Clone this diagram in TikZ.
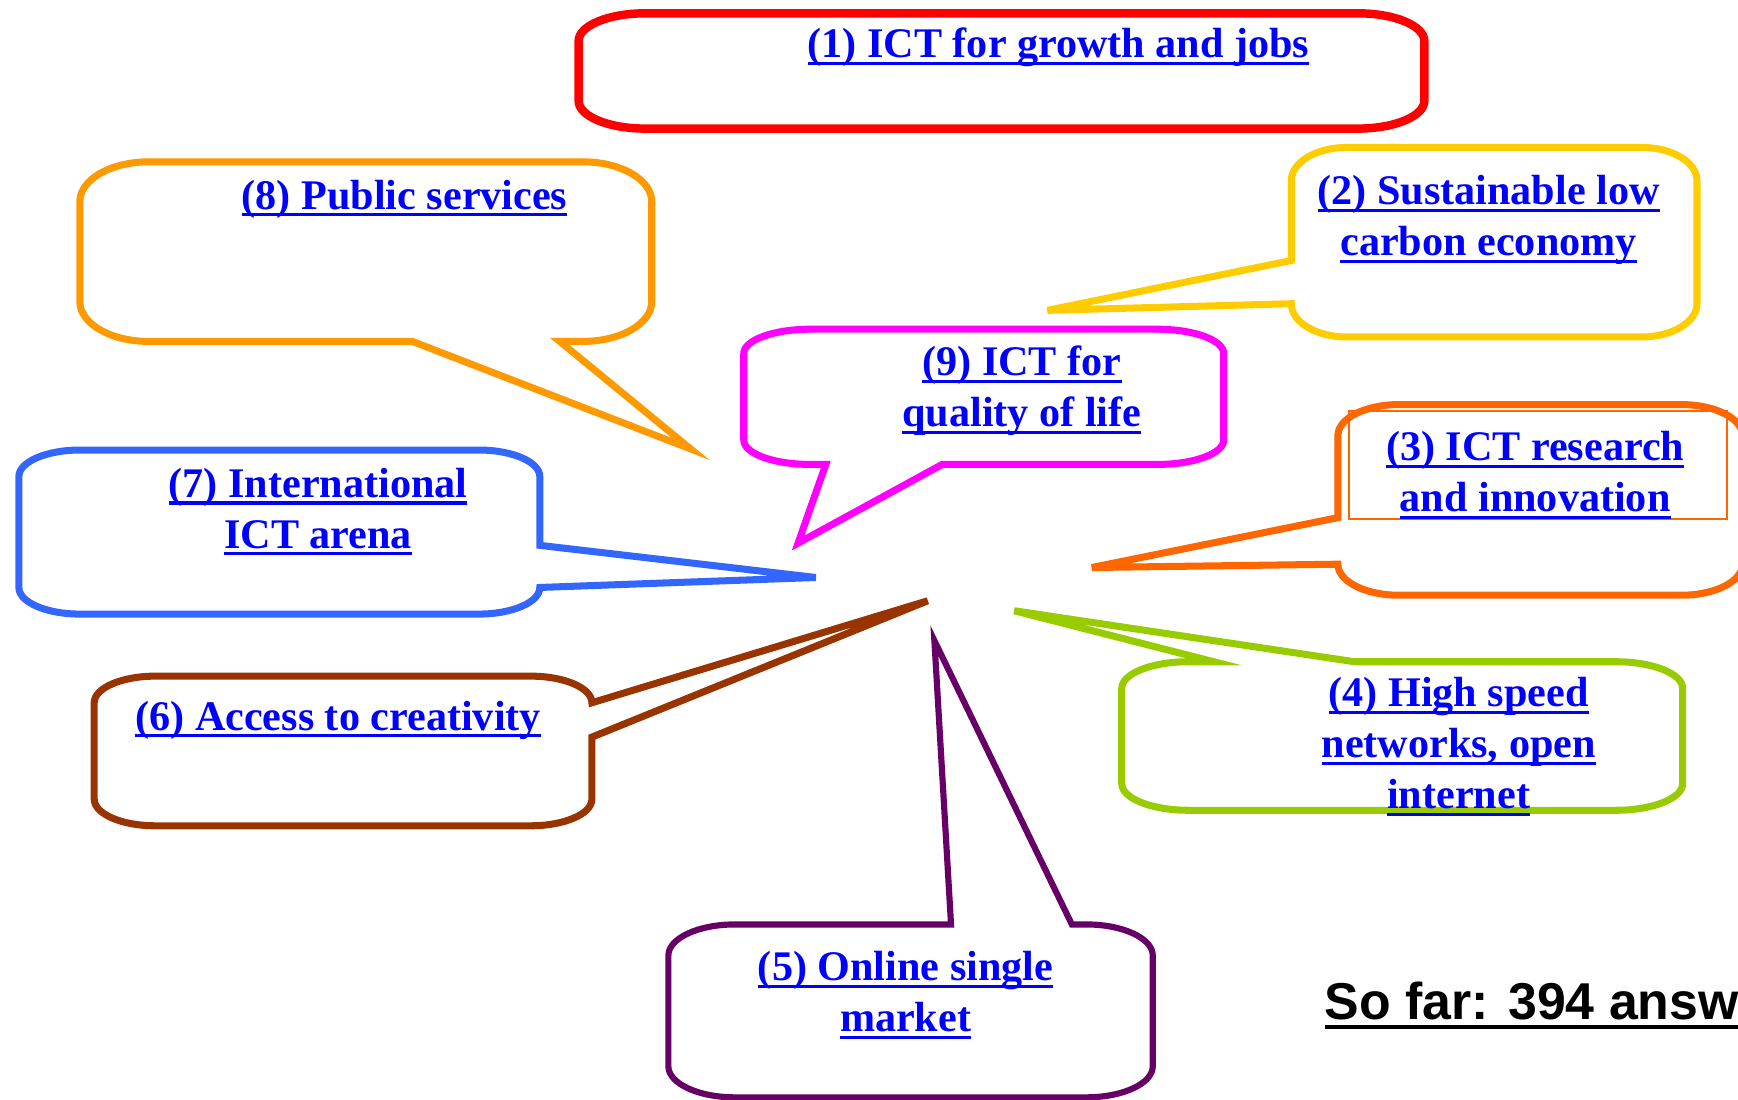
\documentclass[tikz,border=0pt]{standalone}
\usepackage{fontspec}
\setmainfont{Liberation Serif}
\newfontfamily\notefont{Liberation Sans}

% underlined link text
\newcommand{\lnk}[1]{\setbox0=\hbox{#1}\rlap{\rule[-0.17em]{\wd0}{0.075em}}\box0}

\begin{document}
\begin{tikzpicture}[x=0.022168cm, y=-0.022168cm,
    callout/.style={line width=4pt, line join=miter, x radius=55, y radius=28},
    lbl/.style={font=\bfseries\fontsize{24}{29}\selectfont, text=linkblue, align=center, inner sep=0pt, anchor=north}]
        \definecolor{linkblue}{RGB}{0,0,255}
        \definecolor{cRed}{RGB}{255,0,0}
        \definecolor{cYellow}{RGB}{255,204,0}
        \definecolor{cOrange}{RGB}{255,153,0}
        \definecolor{cMagenta}{RGB}{255,0,255}
        \definecolor{cRust}{RGB}{255,102,0}
        \definecolor{cBlue}{RGB}{51,102,255}
        \definecolor{cBrown}{RGB}{153,51,0}
        \definecolor{cGreen}{RGB}{153,204,0}
        \definecolor{cPurple}{RGB}{102,0,102}

        \useasboundingbox (0,0) rectangle (1568,992);
        \clip (0,0) rectangle (1568,992);

        % (1) plain rounded box
        \draw[callout, cRed, line width=4.8pt, x radius=60, y radius=25]
            (582,12) -- (1225,12) arc[start angle=270, end angle=360] -- (1285,91) arc[start angle=0, end angle=90]
            -- (582,116) arc[start angle=90, end angle=180] -- (522,37) arc[start angle=180, end angle=270] -- cycle;

        % (8) pointer at the bottom
        \draw[callout, cOrange, x radius=62, y radius=36]
            (134,146) -- (526,146) arc[start angle=270, end angle=360] -- (588,272) arc[start angle=0, end angle=90]
            -- (505,308) -- (623,405) -- (372,308)
            -- (134,308) arc[start angle=90, end angle=180] -- (72,182) arc[start angle=180, end angle=270] -- cycle;

        % (2) pointer on the left side
        \draw[callout, cYellow, x radius=50, y radius=30]
            (1215,133) -- (1481,133) arc[start angle=270, end angle=360] -- (1531,274) arc[start angle=0, end angle=90]
            -- (1215,304) arc[start angle=90, end angle=180]
            -- (945,280) -- (1165,235)
            -- (1165,163) arc[start angle=180, end angle=270] -- cycle;

        % (9) pointer at the bottom
        \draw[callout, cMagenta, x radius=60, y radius=22]
            (731,297) -- (1044,297) arc[start angle=270, end angle=360] -- (1104,397) arc[start angle=0, end angle=90]
            -- (850,419) -- (720,490) -- (745,419)
            -- (731,419) arc[start angle=90, end angle=180] -- (671,319) arc[start angle=180, end angle=270] -- cycle;

        % (3) pointer on the left side, text frame inside
        \draw[callout, cRust, x radius=55, y radius=28]
            (1262,365) -- (1517,365) arc[start angle=270, end angle=360] -- (1572,509) arc[start angle=0, end angle=90]
            -- (1262,537) arc[start angle=90, end angle=180]
            -- (985,512) -- (1207,467)
            -- (1207,393) arc[start angle=180, end angle=270] -- cycle;
        \draw[cRust, line width=1pt] (1217,371) rectangle (1558,468);

        % (7) pointer on the right side
        \draw[callout, cBlue, x radius=55, y radius=24]
            (72,406) -- (432,406) arc[start angle=270, end angle=360]
            -- (487,492) -- (736,521) -- (487,530)
            arc[start angle=0, end angle=90] -- (72,554) arc[start angle=90, end angle=180]
            -- (17,430) arc[start angle=180, end angle=270] -- cycle;

        % (6) pointer on the right side
        \draw[callout, cBrown, x radius=55, y radius=24]
            (140,610) -- (479,610) arc[start angle=270, end angle=360]
            -- (837,542) -- (534,665)
            -- (534,721) arc[start angle=0, end angle=90] -- (140,745) arc[start angle=90, end angle=180]
            -- (85,634) arc[start angle=180, end angle=270] -- cycle;

        % (4) pointer on the top
        \draw[callout, cGreen, x radius=60, y radius=24]
            (1072,597) -- (1095,597) -- (915,551) -- (1222,597)
            -- (1458,597) arc[start angle=270, end angle=360] -- (1518,707) arc[start angle=0, end angle=90]
            -- (1072,731) arc[start angle=90, end angle=180] -- (1012,621) arc[start angle=180, end angle=270] -- cycle;

        % (5) pointer on the top
        \draw[callout, cPurple, line width=3.5pt, x radius=60, y radius=28]
            (663,834) -- (858,834) -- (843,578) -- (967,834)
            -- (980,834) arc[start angle=270, end angle=360] -- (1040,962) arc[start angle=0, end angle=90]
            -- (663,990) arc[start angle=90, end angle=180] -- (603,862) arc[start angle=180, end angle=270] -- cycle;

        % Labels
        \node[lbl] (t1) at (955,25) {\lnk{(1) ICT for growth and jobs}};
        \node[lbl] (t2) at (1343,158) {\lnk{(2) Sustainable low}\\\lnk{carbon economy}};
        \node[lbl] (t3) at (1385,389) {\lnk{(3) ICT research}\\\lnk{and innovation}};
        \node[lbl] (t4) at (1316,611) {\lnk{(4) High speed}\\\lnk{networks, open}\\\lnk{internet}};
        \node[lbl] (t5) at (817,858) {\lnk{(5) Online single}\\\lnk{market}};
        \node[lbl] (t6) at (305,632) {\lnk{(6) Access to creativity}};
        \node[lbl] (t7) at (287,422) {\lnk{(7) International}\\\lnk{ICT arena}};
        \node[lbl] (t8) at (365,162) {\lnk{(8) Public services}};
        \node[lbl] (t9) at (922,312) {\lnk{(9) ICT for}\\\lnk{quality of life}};

        \node[font=\notefont\bfseries\fontsize{29.5}{35}\selectfont, inner sep=0pt, anchor=base west] (sofar) at (1195,920) {\lnk{So far: 394 answ}};
    \end{tikzpicture}
\end{document}
